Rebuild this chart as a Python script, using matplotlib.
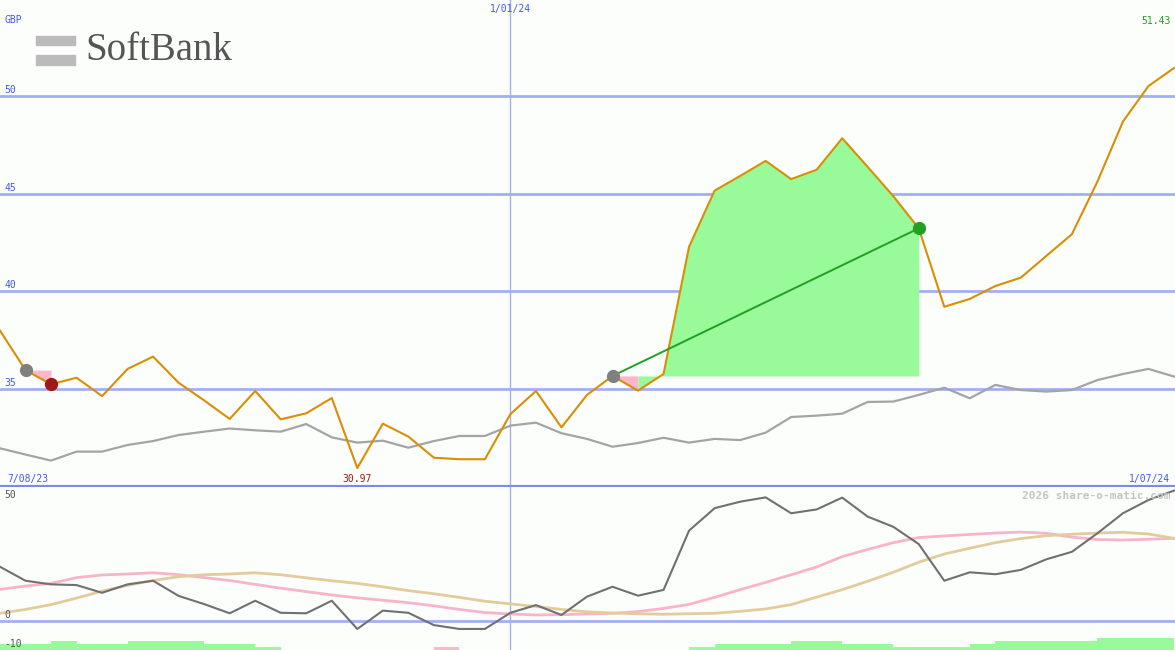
import matplotlib
matplotlib.use("Agg")
import matplotlib.pyplot as plt
import numpy as np

# ---------------- data ----------------
weeks = list(range(47))
price = [38.0, 35.98, 35.25, 35.59, 34.65, 36.04, 36.67, 35.33, 34.43, 33.48,
         34.91, 33.46, 33.77, 34.55, 30.97, 33.24, 32.58, 31.5, 31.42, 31.42,
         33.73, 34.91, 33.05, 34.71, 35.68, 34.93, 35.78, 42.29, 45.16, 45.91,
         46.68, 45.75, 46.23, 47.84, 46.37, 44.88, 43.23, 39.22, 39.62, 40.28,
         40.71, 41.82, 42.93, 45.62, 48.69, 50.51, 51.43]
relative = [31.98, 31.66, 31.35, 31.81, 31.81, 32.15, 32.35, 32.66, 32.83, 32.99,
            32.9, 32.83, 33.22, 32.54, 32.27, 32.37, 32.01, 32.35, 32.61, 32.61,
            33.14, 33.29, 32.75, 32.46, 32.06, 32.25, 32.52, 32.27, 32.46, 32.40,
            32.78, 33.58, 33.65, 33.75, 34.35, 34.37, 34.71, 35.08, 34.54, 35.22,
            34.96, 34.88, 34.96, 35.47, 35.78, 36.04, 35.65]
oscillator = [22.3, 16.5, 15.0, 14.7, 11.5, 15.0, 16.5, 10.2, 6.8, 3.0,
              8.2, 3.2, 3.0, 8.2, -3.5, 4.1, 3.2, -1.9, -3.5, -3.5,
              3.2, 6.4, 2.3, 9.9, 14.0, 10.3, 12.7, 37.3, 46.6, 49.3,
              51.1, 44.5, 46.1, 51.0, 43.1, 38.9, 31.7, 16.5, 20.0, 19.2,
              21.0, 25.4, 28.5, 36.2, 44.5, 50.0, 53.9]
avg_fast = [12.9, 14.3, 15.4, 17.8, 18.9, 19.3, 19.8, 19.0, 17.8, 16.6,
            15.0, 13.4, 12.0, 10.6, 9.4, 8.4, 7.4, 6.1, 4.6, 3.3,
            2.7, 2.3, 2.4, 2.7, 3.0, 3.7, 5.0, 6.7, 9.6, 12.8,
            15.8, 19.0, 22.2, 26.5, 29.5, 32.3, 34.4, 35.1, 35.7, 36.3,
            36.7, 36.2, 34.6, 33.6, 33.4, 33.7, 34.1]
avg_slow = [3.0, 4.6, 6.6, 9.3, 12.2, 14.6, 16.6, 18.2, 19.0, 19.3,
            19.8, 19.0, 17.7, 16.5, 15.4, 14.0, 12.4, 11.1, 9.6, 8.0,
            6.9, 5.8, 4.6, 3.6, 3.1, 2.8, 2.6, 2.8, 3.0, 3.8,
            4.8, 6.6, 9.7, 12.8, 16.3, 20.0, 24.2, 27.6, 30.0, 32.3,
            34.0, 35.2, 35.8, 36.3, 36.6, 35.9, 34.1]
# strength strip levels per weekly interval (negative = pink)
strip = [2, 2, 3, 2, 2, 3, 3, 3, 2, 2, 1, 0, 0, 0, 0, 0, 0, -1, 0, 0,
         0, 0, 0, 0, 0, 0, 0, 1, 2, 2, 2, 3, 3, 2, 2, 1, 1, 1, 2, 3,
         3, 3, 3, 4, 4, 4]
grid_levels = [35, 40, 45, 50]
osc_levels = [50, 0, -10]
trades = [(1, 2, 'loss'), (24, 36, 'win')]
year_marker = 20
year_label = "1/01/24"
start_label = "7/08/23"
end_label = "1/07/24"
min_label = "30.97"
last_label = "51.43"
currency = "GBP"

# ---------------- style ----------------
BG = '#fcfefc'
ORANGE = '#d98e04'
GRID = '#a3b0f0'
BORDER = '#7b88ee'
BLUE_TXT = '#4455ee'
GREEN_FILL = '#98fa98'
PINK_FILL = '#ffb6c8'
mono = 'DejaVu Sans Mono'

W, H = 1175, 650
fig = plt.figure(figsize=(W / 100, H / 100), dpi=100, facecolor=BG)
split = 163 / H
ax = fig.add_axes([0, split, 1, 1 - split], facecolor=BG)
ax2 = fig.add_axes([0, 0, 1, split], facecolor=BG)
top_h = H - 163

x = np.array(weeks, dtype=float)
p = np.array(price)

for a in (ax, ax2):
    a.set_xlim(0, 46.04)
    for s in a.spines.values():
        s.set_visible(False)
    a.set_xticks([])
    a.set_yticks([])
    a.axvline(year_marker, color='#a8b0e0', lw=1.0, zorder=1)

ax.set_ylim(30.0, 54.91)
ax2.set_ylim(-12.24, 55.4)

# grid lines top
for g in grid_levels:
    ax.axhline(g, color=GRID, lw=2.0, zorder=1)
    ax.text(0.004, g + 0.06, str(g), transform=ax.get_yaxis_transform(),
            color=BLUE_TXT, fontsize=7, family=mono, va='bottom', ha='left')
ax.axhline(30.0, color=BORDER, lw=3.0, zorder=5)

# trade fills: contiguous runs of same colour
for i0, i1, kind in trades:
    entry = p[i0]
    cols = [GREEN_FILL if p[i + 1] >= entry else PINK_FILL for i in range(i0, i1)]
    start = i0
    for k in range(1, len(cols) + 1):
        if k == len(cols) or cols[k] != cols[k - 1]:
            end = i0 + k
            ax.fill_between(x[start:end + 1], p[start:end + 1], entry,
                            color=cols[k - 1], lw=0, zorder=2)
            start = end

# relative line and price
ax.plot(x, relative, color='#a4a4a4', lw=1.6, zorder=3)
ax.plot(x, p, color=ORANGE, lw=1.5, zorder=4)

# trade markers
for i0, i1, kind in trades:
    if kind == 'win':
        ax.plot([x[i0], x[i1]], [p[i0], p[i1]], color='#22a022', lw=1.4, zorder=5)
        ax.plot(x[i1], p[i1], 'o', color='#22a022', ms=8.5, zorder=6)
    else:
        ax.plot(x[i1], p[i1], 'o', color='#a01818', ms=8.5, zorder=6)
    ax.plot(x[i0], p[i0], 'o', color='#808080', ms=8.5, zorder=6)

# top texts
ax.text(0.004, 1 - 20 / top_h, currency, transform=ax.transAxes, color=BLUE_TXT,
        fontsize=7, family=mono, va='center', ha='left')
ax.text(year_marker, 1 - 9 / top_h, year_label, transform=ax.get_xaxis_transform(),
        color=BLUE_TXT, fontsize=7, family=mono, va='center', ha='center')
ax.text(0.996, 1 - 21 / top_h, last_label, transform=ax.transAxes, color='#22a022',
        fontsize=7, family=mono, va='center', ha='right')
ax.text(0.006, 0.006, start_label, transform=ax.transAxes, color=BLUE_TXT,
        fontsize=7, family=mono, va='bottom', ha='left')
imin = int(np.argmin(p))
ax.text(x[imin], 0.006, min_label, transform=ax.get_xaxis_transform(),
        color='#a01818', fontsize=7, family=mono, va='bottom', ha='center')
ax.text(0.996, 0.006, end_label, transform=ax.transAxes, color=BLUE_TXT,
        fontsize=7, family=mono, va='bottom', ha='right')

# logo
fig.patches.append(plt.Rectangle((36 / W, 1 - 45 / H), 39 / W, 9 / H,
                                 transform=fig.transFigure, color='#bbbbbb'))
fig.patches.append(plt.Rectangle((36 / W, 1 - 65 / H), 39 / W, 10 / H,
                                 transform=fig.transFigure, color='#bbbbbb'))
fig.text(85 / W, 1 - 51 / H, "SoftBank", family='Liberation Serif', fontsize=28,
         color='#555555', va='center', ha='left')

# lower panel
ax2.axhline(0, color=GRID, lw=2.0, zorder=1)
ax2.plot(x, avg_fast, color='#f8b4c8', lw=2.0, zorder=2)
ax2.plot(x, avg_slow, color='#e2cc9c', lw=2.0, zorder=2)
ax2.plot(x, oscillator, color='#707070', lw=1.5, zorder=3)
lvl = 1.245
for i, s in enumerate(strip):
    if s == 0:
        continue
    ax2.bar(x[i], abs(s) * lvl, bottom=-12.24, width=1.0, align='edge',
            color=GREEN_FILL if s > 0 else PINK_FILL, lw=0, zorder=2)
for v, off in zip(osc_levels, [0.0, 0.3, -1.8]):
    ax2.text(0.004, v + off, str(v), transform=ax2.get_yaxis_transform(),
             color='#555555', fontsize=7, family=mono, va='bottom', ha='left')
ax2.text(0.996, 0.975, "2026 share-o-matic.com", transform=ax2.transAxes,
         color='#c4c4c4', fontsize=8, family=mono, fontweight='bold',
         va='top', ha='right')

fig.savefig("out.png", dpi=100, facecolor=BG)
